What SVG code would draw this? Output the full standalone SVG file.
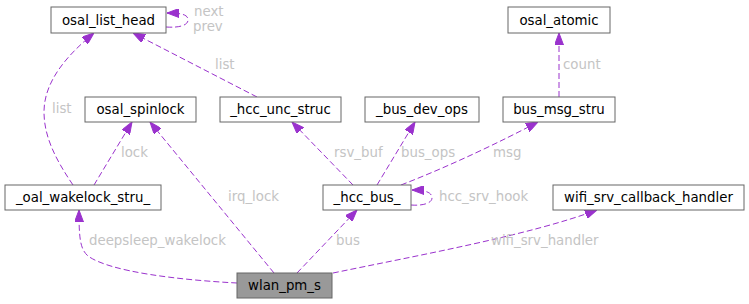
<svg xmlns="http://www.w3.org/2000/svg" width="749" height="304" viewBox="0 0 749 304">
<style>
.node rect{fill:#ffffff;stroke:#666666;stroke-width:1}
.node text{font-family:"DejaVu Sans",sans-serif;font-size:13.33px;fill:#000000;text-anchor:middle}
.edge{fill:none;stroke:#9a32cd;stroke-width:1;stroke-dasharray:6,3}
.lbl{font-family:"DejaVu Sans",sans-serif;font-size:13.33px;fill:#c4c4c4}
</style>
<defs>
<marker id="ah" markerUnits="userSpaceOnUse" viewBox="0 0 12 9" markerWidth="12" markerHeight="9" refX="12" refY="4.5" orient="auto">
<path d="M0,0 L12,4.5 L0,9 Z" fill="#9a32cd" stroke="#9a32cd"/>
</marker>
</defs>
<rect width="749" height="304" fill="#ffffff"/>
<g id="edges">
<path class="edge" marker-end="url(#ah)" d="M166,27 C180,28 188,25 188,20 C188,15 183,13 167,13"/>
<path class="edge" marker-end="url(#ah)" d="M73,185 C56,160 44,137 44,112 C44,82 66,56 94,33"/>
<path class="edge" marker-end="url(#ah)" d="M94,185 L132,122"/>
<path class="edge" marker-end="url(#ah)" d="M274,273 L150,122"/>
<path class="edge" marker-end="url(#ah)" d="M257,97 L133,33"/>
<path class="edge" marker-end="url(#ah)" d="M353,185 L292,122"/>
<path class="edge" marker-end="url(#ah)" d="M377,185 L415,122"/>
<path class="edge" marker-end="url(#ah)" d="M401,185 C450,166 500,142 538,122"/>
<path class="edge" marker-end="url(#ah)" d="M559,97 L559,33"/>
<path class="edge" marker-end="url(#ah)" d="M411,205 C423,206 432,203 432,198 C432,193 427,190 412,190"/>
<path class="edge" marker-end="url(#ah)" d="M297,273 L357,210"/>
<path class="edge" marker-end="url(#ah)" d="M237,283 C180,280 110,272 88,256 C80,249 79,238 79,210"/>
<path class="edge" marker-end="url(#ah)" d="M333,273 C420,255 530,235 597,210"/>
</g>
<g id="labels">
<text class="lbl" x="194" y="16">next</text>
<text class="lbl" x="193" y="31">prev</text>
<text class="lbl" x="52" y="113">list</text>
<text class="lbl" x="121" y="157">lock</text>
<text class="lbl" x="228" y="201">irq_lock</text>
<text class="lbl" x="215" y="69">list</text>
<text class="lbl" x="334" y="157">rsv_buf</text>
<text class="lbl" x="401" y="157">bus_ops</text>
<text class="lbl" x="493" y="157">msg</text>
<text class="lbl" x="563" y="69">count</text>
<text class="lbl" x="439" y="201">hcc_srv_hook</text>
<text class="lbl" x="336" y="245">bus</text>
<text class="lbl" x="89" y="245">deepsleep_wakelock</text>
<text class="lbl" x="491" y="245">wifi_srv_handler</text>
</g>
<g id="osal_list_head" class="node"><rect x="51" y="7" width="115" height="26"/><text x="108.5" y="24.5">osal_list_head</text></g>
<g id="osal_atomic" class="node"><rect x="508" y="7" width="102" height="26"/><text x="559" y="24.5">osal_atomic</text></g>
<g id="osal_spinlock" class="node"><rect x="85" y="97" width="111" height="25"/><text x="140.5" y="114">osal_spinlock</text></g>
<g id="_hcc_unc_struc" class="node"><rect x="220" y="97" width="121" height="25"/><text x="280.5" y="114">_hcc_unc_struc</text></g>
<g id="_bus_dev_ops" class="node"><rect x="365" y="97" width="114" height="25"/><text x="422" y="114">_bus_dev_ops</text></g>
<g id="bus_msg_stru" class="node"><rect x="503" y="97" width="112" height="25"/><text x="559" y="114">bus_msg_stru</text></g>
<g id="_oal_wakelock_stru_" class="node"><rect x="5" y="185" width="156" height="25"/><text x="83" y="202">_oal_wakelock_stru_</text></g>
<g id="_hcc_bus_" class="node"><rect x="323" y="185" width="88" height="25"/><text x="367" y="202">_hcc_bus_</text></g>
<g id="wifi_srv_callback_handler" class="node"><rect x="553" y="185" width="191" height="25"/><text x="648.5" y="202">wifi_srv_callback_handler</text></g>
<g id="wlan_pm_s" class="node"><rect x="237" y="273" width="95" height="25" style="fill:#999999"/><text x="284.5" y="290">wlan_pm_s</text></g>
</svg>
